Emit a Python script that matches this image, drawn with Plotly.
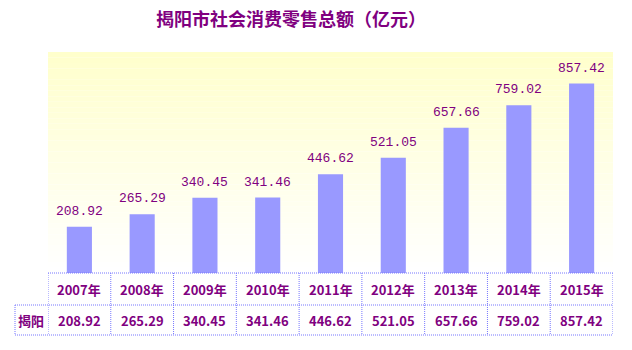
import plotly.graph_objects as go

years = ["2007年", "2008年", "2009年", "2010年", "2011年", "2012年", "2013年", "2014年", "2015年"]
values = [208.92, 265.29, 340.45, 341.46, 446.62, 521.05, 657.66, 759.02, 857.42]
series_name = "揭阳"
title = "揭阳市社会消费零售总额（亿元）"

PURPLE = "#800080"
BAR = "#9999FF"
GRID = "#7777FF"

W, H = 632, 350
ml, mr, mt, mb = 48, 19, 52, 77
ph = H - mt - mb
pw = W - ml - mr

def py(px):  # pixel y -> paper y
    return (H - mb - px) / ph

def pxp(px):  # pixel x -> paper x
    return (px - ml) / pw

fig = go.Figure()
fig.add_trace(go.Bar(x=list(range(len(years))), y=values, marker=dict(color=BAR, line=dict(width=0)),
                     width=0.4, hoverinfo="skip"))

shapes = []
# gradient background
n = 40
for i in range(n):
    t = i / (n - 1)
    g = int(round(204 + (255 - 204) * t))
    shapes.append(dict(type="rect", xref="paper", yref="paper", x0=0, x1=1,
                       y0=1 - (i + 1) / n, y1=1 - i / n, line=dict(width=0),
                       fillcolor=f"rgb(255,255,{g})", layer="below"))

dot = dict(color=GRID, width=1, dash="1px,1px")
r0, r1, r2 = py(273), py(305), py(335)
lx = pxp(15)
# horizontal lines
shapes.append(dict(type="line", xref="paper", yref="paper", x0=0, x1=1, y0=r0, y1=r0, line=dot))
shapes.append(dict(type="line", xref="paper", yref="paper", x0=lx, x1=1, y0=r1, y1=r1, line=dot))
shapes.append(dict(type="line", xref="paper", yref="paper", x0=lx, x1=1, y0=r2, y1=r2, line=dot))
# vertical lines
shapes.append(dict(type="line", xref="paper", yref="paper", x0=lx, x1=lx, y0=r1, y1=r2, line=dot))
for k in range(len(years) + 1):
    shapes.append(dict(type="line", xref="x", yref="paper", x0=k - 0.5, x1=k - 0.5, y0=r0, y1=r2, line=dot))

annotations = []
for i, (yr, v) in enumerate(zip(years, values)):
    annotations.append(dict(x=i, y=v, xref="x", yref="y", text=f"{v:.2f}", showarrow=False,
                            yanchor="bottom", yshift=6,
                            font=dict(family="Liberation Mono, DejaVu Sans Mono, monospace", size=13, color=PURPLE)))
    annotations.append(dict(x=i, y=py(289), xref="x", yref="paper", text=f"<b>{yr}</b>", showarrow=False,
                            yanchor="middle",
                            font=dict(family="Noto Sans CJK SC, sans-serif", size=13, color=PURPLE)))
    annotations.append(dict(x=i, y=py(320), xref="x", yref="paper", text=f"<b>{v:.2f}</b>", showarrow=False,
                            yanchor="middle",
                            font=dict(family="Noto Sans CJK SC, sans-serif", size=13, color=PURPLE)))
annotations.append(dict(x=pxp(31), y=py(320), xref="paper", yref="paper", text=f"<b>{series_name}</b>",
                        showarrow=False, yanchor="middle", xanchor="center",
                        font=dict(family="Noto Sans CJK SC, sans-serif", size=13, color=PURPLE)))
annotations.append(dict(x=pxp(291), y=py(18), xref="paper", yref="paper", text=f"<b>{title}</b>",
                        showarrow=False, yanchor="middle", xanchor="center",
                        font=dict(family="Noto Sans CJK SC, sans-serif", size=18, color=PURPLE)))

fig.update_layout(
    width=W, height=H,
    margin=dict(l=ml, r=mr, t=mt, b=mb, pad=0),
    paper_bgcolor="white", plot_bgcolor="rgba(0,0,0,0)",
    showlegend=False,
    xaxis=dict(range=[-0.5, len(years) - 0.5], showticklabels=False, showgrid=False,
               zeroline=False, showline=False, ticks=""),
    yaxis=dict(range=[0, 1000], visible=False, showgrid=False, zeroline=False),
    shapes=shapes, annotations=annotations,
    bargap=0.6,
)

fig.write_html("out.html")
